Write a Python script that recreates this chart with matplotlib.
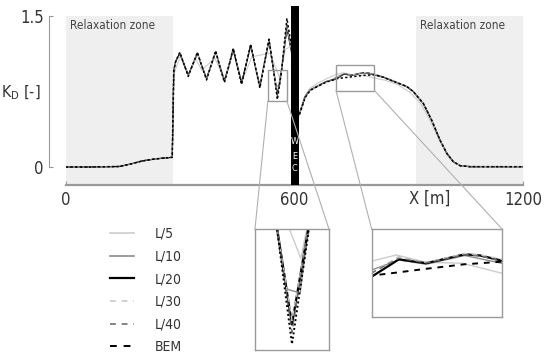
import matplotlib
matplotlib.use('Agg')
import matplotlib.pyplot as plt
from matplotlib import font_manager
from matplotlib.patches import Rectangle, ConnectionPatch
from matplotlib.lines import Line2D

# pick a narrow sans if one is there
have = {(f.name, f.stretch) for f in font_manager.fontManager.ttflist}
names = {n for n, s in have}
if 'Liberation Sans Narrow' in names:
    plt.rcParams['font.family'] = ['Liberation Sans Narrow', 'DejaVu Sans']
elif ('DejaVu Sans', 'condensed') in have:
    plt.rcParams['font.family'] = ['DejaVu Sans']
    plt.rcParams['font.stretch'] = 'condensed'
else:
    plt.rcParams['font.family'] = ['Roboto', 'DejaVu Sans']

# ---- data ----
x_fine = [0, 60, 140, 170, 200, 230, 260, 279, 283, 288, 299, 310, 321, 333, 345, 357,
          369, 381, 393, 404, 416, 428, 439, 450, 461, 473, 485, 497, 509, 521, 533, 545,
          555, 566, 580, 592, 604, 613, 628, 641, 658, 684, 700, 709, 730, 751, 781, 793,
          810, 833, 859, 895, 912, 938, 960, 982, 1000, 1017, 1035, 1061, 1120, 1200]

kd_l20 = [0, 0, 0.005, 0.03, 0.06, 0.078, 0.09, 0.096, 0.96, 1.05, 1.13, 1.02, 0.914, 1.02, 1.13, 1.0,
          0.88, 1.01, 1.145, 1.0, 0.857, 1.01, 1.17, 1.0, 0.837, 1.02, 1.21, 1.0, 0.804, 1.03, 1.26, 0.963,
          0.72, 0.963, 1.39, 1.15, 0.5, 0.53, 0.70, 0.765, 0.80, 0.85, 0.865, 0.8745, 0.924, 0.913, 0.9385, 0.935,
          0.92, 0.895, 0.855, 0.80, 0.75, 0.633, 0.467, 0.268, 0.136, 0.053, 0.013, 0.003, 0.003, 0.003]

kd_l30 = [0, 0, 0.005, 0.03, 0.06, 0.078, 0.09, 0.096, 0.96, 1.05, 1.13, 1.02, 0.912, 1.02, 1.13, 1.0,
          0.878, 1.01, 1.148, 1.0, 0.855, 1.01, 1.17, 1.0, 0.834, 1.02, 1.21, 1.0, 0.80, 1.03, 1.26, 0.963,
          0.73, 0.963, 1.40, 1.15, 0.5, 0.53, 0.70, 0.765, 0.80, 0.852, 0.868, 0.885, 0.9325, 0.915, 0.9405, 0.937,
          0.924, 0.897, 0.857, 0.80, 0.75, 0.633, 0.467, 0.268, 0.136, 0.053, 0.013, 0.003, 0.003, 0.003]

kd_l40 = [0, 0, 0.005, 0.03, 0.06, 0.078, 0.09, 0.096, 0.96, 1.05, 1.135, 1.02, 0.91, 1.02, 1.135, 1.0,
          0.875, 1.01, 1.15, 1.0, 0.85, 1.01, 1.175, 1.0, 0.83, 1.02, 1.215, 1.0, 0.795, 1.03, 1.265, 0.963,
          0.70, 0.963, 1.43, 1.15, 0.5, 0.53, 0.70, 0.765, 0.80, 0.85, 0.866, 0.885, 0.9275, 0.914, 0.9375, 0.934,
          0.9175, 0.895, 0.856, 0.80, 0.75, 0.633, 0.467, 0.268, 0.136, 0.053, 0.013, 0.003, 0.003, 0.003]

kd_bem = [0, 0, 0.005, 0.03, 0.06, 0.078, 0.09, 0.096, 0.96, 1.05, 1.14, 1.02, 0.90, 1.02, 1.14, 1.0,
          0.865, 1.01, 1.155, 1.0, 0.84, 1.01, 1.18, 1.0, 0.82, 1.02, 1.22, 1.0, 0.785, 1.03, 1.27, 0.96,
          0.67, 0.95, 1.477, 1.2, 0.5, 0.52, 0.69, 0.76, 0.795, 0.845, 0.862, 0.8775, 0.887, 0.897, 0.91, 0.913,
          0.9175, 0.892, 0.853, 0.80, 0.75, 0.633, 0.467, 0.268, 0.136, 0.053, 0.013, 0.003, 0.003, 0.003]

x_l10 = [0, 60, 140, 170, 200, 230, 260, 279, 283, 288, 299, 310, 321, 333, 345, 357,
         369, 381, 393, 404, 416, 428, 439, 450, 461, 473, 485, 497, 509, 521, 533, 545,
         551.5, 560.5, 566, 580, 592, 604, 613, 628, 641, 658, 684, 700, 709, 730, 751, 781,
         810, 833, 859, 895, 912, 938, 960, 982, 1000, 1017, 1035, 1061, 1200]
kd_l10 = [0, 0, 0.005, 0.03, 0.06, 0.078, 0.09, 0.096, 0.96, 1.05, 1.13, 1.02, 0.914, 1.02, 1.13, 1.0,
          0.88, 1.01, 1.145, 1.0, 0.857, 1.01, 1.17, 1.0, 0.837, 1.02, 1.21, 1.0, 0.804, 1.03, 1.26, 0.963,
          0.81, 0.80, 0.963, 1.37, 1.15, 0.5, 0.53, 0.70, 0.765, 0.80, 0.85, 0.87, 0.8935, 0.9225, 0.91, 0.935,
          0.9125, 0.89, 0.852, 0.795, 0.745, 0.63, 0.465, 0.268, 0.136, 0.053, 0.013, 0.003, 0.003]

x_l5 = [0, 60, 140, 170, 200, 230, 260, 279, 284, 300, 322, 340, 356, 391, 416, 440, 462, 488,
        520, 536, 561, 576, 592, 604, 612, 625, 640, 660, 685, 709, 728, 751, 779, 810, 840,
        870, 900, 930, 955, 980, 1000, 1020, 1040, 1200]
kd_l5 = [0, 0, 0.005, 0.03, 0.06, 0.078, 0.09, 0.096, 0.93, 1.10, 0.92, 1.08, 0.963, 1.08, 0.87, 1.15, 0.85, 1.095,
         1.12, 1.13, 0.888, 1.17, 1.2, 0.45, 0.50, 0.69, 0.78, 0.83, 0.88, 0.919, 0.9365, 0.9155, 0.913, 0.884, 0.86,
         0.82, 0.75, 0.64, 0.47, 0.27, 0.12, 0.04, 0.01, 0.003]

relax_zones = [(0, 280), (920, 1200)]
wec_span = (590, 611)
x_ticks = [0, 600, 1200]
y_ticks = [0, 1.5]

# label, x, y, colour, linestyle
series = [
    ('L/5', x_l5, kd_l5, '#cccccc', '-'),
    ('L/10', x_l10, kd_l10, '#8c8c8c', '-'),
    ('L/20', x_fine, kd_l20, 'black', '-'),
    ('L/30', x_fine, kd_l30, '#c8c8c8', '--'),
    ('L/40', x_fine, kd_l40, '#6e6e6e', '--'),
    ('BEM', x_fine, kd_bem, 'black', '--'),
]

fig = plt.figure(figsize=(5.5, 3.56), dpi=100)
ax = fig.add_axes([0.12, 0.4803, 0.8309, 0.5028])
ax.set_xlim(0, 1200)
ax.set_ylim(-0.179, 1.6)

for a, b in relax_zones:
    ax.fill_between([a, b], -0.179, 1.5, color='#efefef', lw=0, zorder=0)
ax.text(10, 1.41, 'Relaxation zone', fontsize=8.5, color='#444444', va='center')
ax.text(930, 1.41, 'Relaxation zone', fontsize=8.5, color='#444444', va='center')

lw_main = {'L/5': 0.8, 'L/10': 0.8, 'L/20': 0.9, 'L/30': 0.8, 'L/40': 0.8, 'BEM': 1.1}
for lab, xs, ys, col, ls in series:
    ln, = ax.plot(xs, ys, color=col, ls=ls, lw=lw_main[lab], zorder=2)
    if lab == 'BEM':
        ln.set_dashes((1.5, 1.5))
    elif ls == '--':
        ln.set_dashes((3, 2))

ax.axvspan(wec_span[0], wec_span[1], color='black', zorder=5, lw=0)
for ch, yy in zip('WEC', [0.251, 0.109, -0.01]):
    ax.text(600.5, yy, ch, color='white', fontsize=6.5, ha='center', va='center', zorder=6)

for s in ['top', 'right']:
    ax.spines[s].set_visible(False)
ax.spines['left'].set_position(('outward', 12))
ax.spines['left'].set_bounds(0, 1.5)
ax.spines['left'].set_color('#999999')
ax.spines['bottom'].set_bounds(0, 1200)
ax.spines['bottom'].set_color('#999999')
ax.spines['bottom'].set_linewidth(1.6)
ax.set_xticks(x_ticks)
ax.set_xticklabels([str(v) for v in x_ticks])
ax.set_yticks(y_ticks)
ax.set_yticklabels(['0', '1.5'])
ax.tick_params(direction='in', length=3, color='#999999', labelsize=12,
               labelcolor='#333333', pad=4)
fig.text(430 / 550, 1 - 199 / 356, 'X [m]', fontsize=12, color='#333333',
         ha='center', va='center')
fig.text(21 / 550, 1 - 93 / 356, r'K$_\mathregular{D}$ [-]', fontsize=11.5,
         color='#333333', ha='center', va='center')

# zoom boxes
box1 = (530, 580, 0.655, 0.963)
box2 = (709, 810, 0.76, 1.01)
for x0, x1, y0, y1 in [box1, box2]:
    ax.add_patch(Rectangle((x0, y0), x1 - x0, y1 - y0, fill=False, ec='#9a9a9a', lw=1, zorder=7))

axin1 = fig.add_axes([0.4636, 0.0169, 0.1345, 0.3399])
axin2 = fig.add_axes([0.6758, 0.1104, 0.2375, 0.2455])
lw_in = {'L/5': 1.0, 'L/10': 1.0, 'L/20': 1.6, 'L/30': 1.0, 'L/40': 1.0, 'BEM': 1.4}
for axin, box, bem_dash in [(axin1, box1, (1, 1.3)), (axin2, box2, (3, 3))]:
    for lab, xs, ys, col, ls in series:
        ln, = axin.plot(xs, ys, color=col, ls=ls, lw=lw_in[lab])
        if lab == 'BEM':
            ln.set_dashes(bem_dash)
        elif ls == '--':
            ln.set_dashes((4, 3))
    axin.set_xlim(box[0], box[1])
    axin.set_ylim(box[2], box[3])
    axin.set_xticks([])
    axin.set_yticks([])
    for s in axin.spines.values():
        s.set_color('#9a9a9a')
        s.set_linewidth(1)

# connector lines box -> inset
for axin, box in [(axin1, box1), (axin2, box2)]:
    for xa, xb in [(box[0], 0), (box[1], 1)]:
        con = ConnectionPatch(xyA=(xa, box[2]), coordsA=ax.transData,
                              xyB=(xb, 1), coordsB=axin.transAxes,
                              color='#b0b0b0', lw=0.8)
        fig.add_artist(con)

# legend
handles = []
for lab, xs, ys, col, ls in series:
    h = Line2D([], [], color=col, ls=ls, lw=lw_in[lab] if lab in ('L/20', 'BEM') else 1.2)
    if ls == '--':
        h.set_dashes((3.5, 3.5))
    handles.append(h)
fig.legend(handles, [s[0] for s in series], loc='upper left',
           bbox_to_anchor=(110 / 550, 1 - 227 / 356), frameon=False, fontsize=10,
           handlelength=1.7, handletextpad=1.5, labelspacing=0.62, borderpad=0,
           borderaxespad=0, labelcolor='#333333')

fig.savefig('out.png', dpi=100)
